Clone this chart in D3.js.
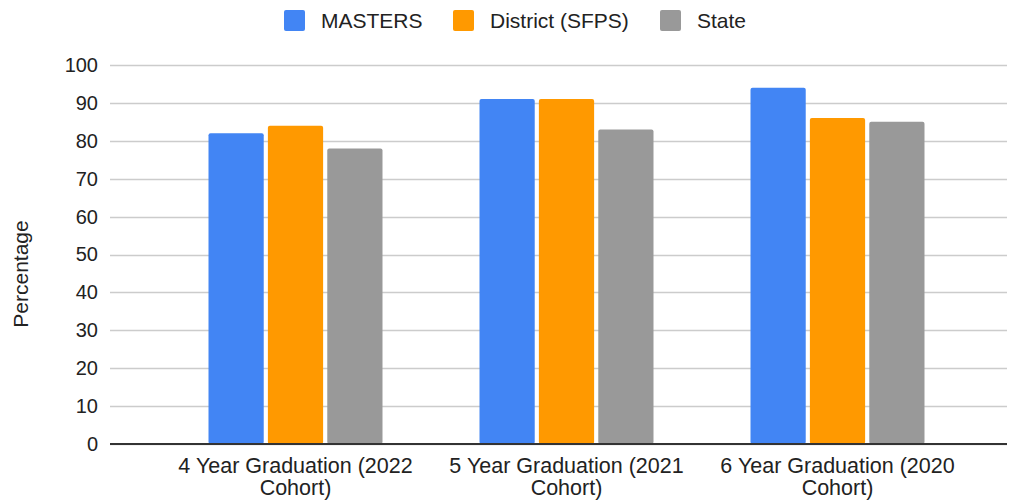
<!DOCTYPE html>
<html>
<head>
<meta charset="utf-8">
<script src="https://cdn.jsdelivr.net/npm/d3@7"></script>
<style>
  body { margin: 0; background: #fff; }
  text { font-family: "Liberation Sans", Arial, sans-serif; fill: #222; }
</style>
</head>
<body>
<div class="container"></div>
<script>
let categories = ["4 Year Graduation (2022 Cohort)", "5 Year Graduation (2021 Cohort)", "6 Year Graduation (2020 Cohort)"];
let labelLines = [["4 Year Graduation (2022", "Cohort)"], ["5 Year Graduation (2021", "Cohort)"], ["6 Year Graduation (2020", "Cohort)"]];
let seriesNames = ["MASTERS", "District (SFPS)", "State"];
let masters = [82, 91, 94];
let district = [84, 91, 86];
let state = [78, 83, 85];
let yTicks = [0, 10, 20, 30, 40, 50, 60, 70, 80, 90, 100];
let colors = ["#4285f4", "#ff9900", "#999999"];

let svg = d3.select(".container").append("svg")
    .attr("width", 1011)
    .attr("height", 502);

let margin = {top: 65, right: 4, bottom: 58, left: 110};
let width = 1011 - margin.left - margin.right,
    height = 502 - margin.top - margin.bottom;

let series = [masters, district, state];

let x = d3.scaleBand()
    .domain(categories)
    .range([160 - margin.left, 973 - margin.left]);

let xInner = d3.scaleBand()
    .domain(seriesNames)
    .range([0, 174])
    .paddingInner(0.07);

let y = d3.scaleLinear().domain([0, 100]).range([height, 0]);

let g = svg.append("g")
    .attr("transform", "translate(" + margin.left + "," + margin.top + ")");

// gridlines
g.append("g")
    .selectAll("line")
    .data(yTicks)
    .enter()
    .append("line")
    .attr("x1", 0)
    .attr("x2", width)
    .attr("y1", d => Math.round(y(d)) + 0.5)
    .attr("y2", d => Math.round(y(d)) + 0.5)
    .attr("stroke", "#cccccc")
    .attr("stroke-width", 1.3);

// y tick labels
let yAxis = d3.axisLeft(y).tickValues(yTicks).tickSize(0).tickPadding(12);
let ya = g.append("g").call(yAxis);
ya.select(".domain").remove();
ya.selectAll("text")
    .style("font-size", "20px")
    .style("font-family", "\"Liberation Sans\", Arial, sans-serif")
    .attr("fill", "#222");

// bars
let groups = g.selectAll(".grp")
    .data(categories)
    .enter()
    .append("g")
    .attr("class", "grp")
    .attr("transform", d => "translate(" + (x(d) + x.bandwidth() / 2 - 87) + ",0)");

groups.selectAll("rect")
    .data((d, i) => series.map((s, j) => ({name: seriesNames[j], value: s[i], color: colors[j]})))
    .enter()
    .append("rect")
    .attr("x", d => xInner(d.name))
    .attr("width", xInner.bandwidth())
    .attr("y", d => y(d.value))
    .attr("height", d => y(0) - y(d.value))
    .attr("rx", 2)
    .attr("fill", d => d.color);

// baseline
g.append("line")
    .attr("x1", 0)
    .attr("x2", width)
    .attr("y1", y(0))
    .attr("y2", y(0))
    .attr("stroke", "#333333")
    .attr("stroke-width", 2);

// x labels
let xl = g.append("g")
    .selectAll("text")
    .data(categories)
    .enter()
    .append("text")
    .attr("text-anchor", "middle")
    .style("font-size", "21.5px")
    .attr("x", d => x(d) + x.bandwidth() / 2)
    .attr("y", height + 29);

xl.each(function (d, i) {
    let t = d3.select(this);
    labelLines[i].forEach((line, k) => {
        t.append("tspan")
            .attr("x", x(d) + x.bandwidth() / 2)
            .attr("dy", k === 0 ? 0 : 22)
            .text(line);
    });
});

// y title
svg.append("text")
    .attr("transform", "translate(28,274) rotate(-90)")
    .attr("text-anchor", "middle")
    .style("font-size", "21px")
    .text("Percentage");

// legend
let legendX = [284, 453, 660];
let legend = svg.append("g");
seriesNames.forEach((name, i) => {
    legend.append("rect")
        .attr("x", legendX[i])
        .attr("y", 10)
        .attr("width", 21)
        .attr("height", 21)
        .attr("rx", 2)
        .attr("fill", colors[i]);
    legend.append("text")
        .attr("x", legendX[i] + 37)
        .attr("y", 28)
        .style("font-size", "21px")
        .text(name);
});
</script>
</body>
</html>
